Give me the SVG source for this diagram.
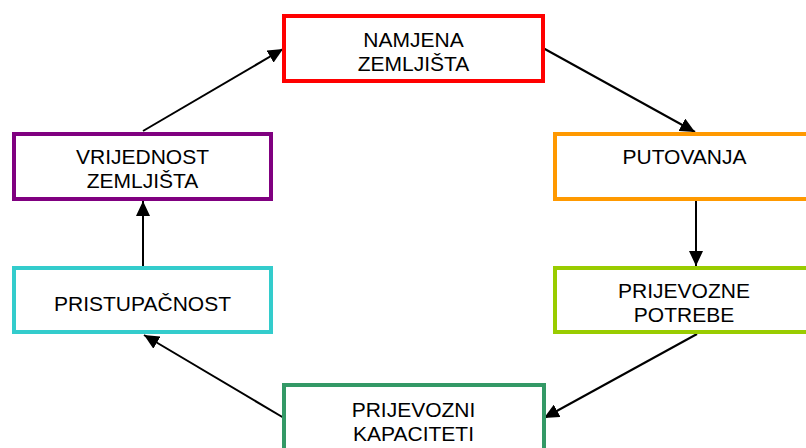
<svg xmlns="http://www.w3.org/2000/svg" width="806" height="448" viewBox="0 0 806 448">
<style>
.box{fill:#fff;stroke-width:4}
.lbl{font-family:"Liberation Sans",Arial,sans-serif;font-size:21px;fill:#000;text-anchor:middle}
.con{stroke:#000;stroke-width:2;fill:none;marker-end:url(#ah)}
</style>
<defs>
<marker id="ah" markerUnits="userSpaceOnUse" markerWidth="16" markerHeight="14" refX="15" refY="7" orient="auto">
<path d="M0,0 L15,7 L0,14 Z" fill="#000"/>
</marker>
</defs>
<rect width="806" height="448" fill="#fff"/>
<g id="connectors">
<line class="con" x1="143" y1="131" x2="283" y2="49"/>
<line class="con" x1="543" y1="48" x2="695" y2="132"/>
<line class="con" x1="696" y1="201" x2="696" y2="266"/>
<line class="con" x1="697" y1="334" x2="544" y2="418"/>
<line class="con" x1="284" y1="418" x2="144" y2="335"/>
<line class="con" x1="143" y1="266" x2="143" y2="201"/>
</g>
<g id="namjena">
<rect class="box" x="284" y="16" width="259" height="65" stroke="#FF0000"/>
<text class="lbl" x="413.5" y="47">NAMJENA</text>
<text class="lbl" x="413.5" y="71">ZEMLJIŠTA</text>
</g>
<g id="putovanja">
<rect class="box" x="555" y="134" width="257" height="65" stroke="#FF9900"/>
<text class="lbl" x="684.5" y="164">PUTOVANJA</text>
</g>
<g id="prijevozne-potrebe">
<rect class="box" x="555" y="268" width="257" height="64" stroke="#99CC00"/>
<text class="lbl" x="684" y="298">PRIJEVOZNE</text>
<text class="lbl" x="684" y="322">POTREBE</text>
</g>
<g id="prijevozni-kapaciteti">
<rect class="box" x="284" y="385" width="260" height="70" stroke="#339966"/>
<text class="lbl" x="413.5" y="417">PRIJEVOZNI</text>
<text class="lbl" x="413.5" y="441">KAPACITETI</text>
</g>
<g id="pristupacnost">
<rect class="box" x="14" y="268" width="257" height="64" stroke="#33CCCC"/>
<text class="lbl" x="142.5" y="311">PRISTUPAČNOST</text>
</g>
<g id="vrijednost">
<rect class="box" x="14" y="134" width="257" height="65" stroke="#800080"/>
<text class="lbl" x="142.5" y="164">VRIJEDNOST</text>
<text class="lbl" x="142.5" y="188">ZEMLJIŠTA</text>
</g>
</svg>
